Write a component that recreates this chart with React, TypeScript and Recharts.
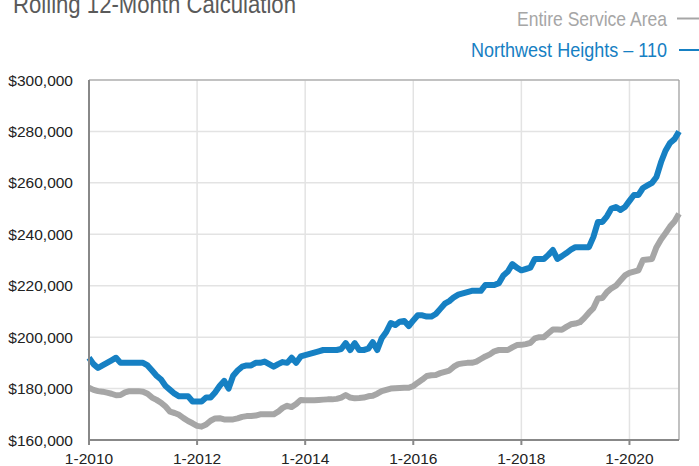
import {
  LineChart,
  Line,
  XAxis,
  YAxis,
  CartesianGrid,
  ReferenceArea,
} from "recharts"

// monthly values in $ thousands, Jan 2010 .. Dec 2020
const serviceArea = [
  180.3, 179.5, 179, 178.8, 178.4, 178, 177.4, 177.5, 178.5, 179, 179, 179,
  178.8, 178, 176.5, 175.6, 174.5, 173, 171, 170.5, 169.8, 168.5, 167.4, 166.5,
  165.5, 165.2, 166, 167.5, 168.4, 168.5, 168, 168, 168, 168.4, 169, 169.3,
  169.3, 169.5, 170, 170, 170, 170, 171, 172.5, 173.3, 172.8, 174, 175.6,
  175.5, 175.5, 175.5, 175.6, 175.7, 175.8, 175.8, 176, 176.5, 177.5, 176.5, 176.2,
  176.3, 176.5, 177, 177.2, 178, 179, 179.5, 180, 180.1, 180.2, 180.3, 180.3,
  181, 182.3, 183.5, 184.9, 185.2, 185.3, 186, 186.5, 187, 188.5, 189.5, 189.8,
  190, 190, 190.5, 191.5, 192.5, 193.3, 194.5, 195, 195, 195, 196, 196.9,
  197, 197.3, 197.8, 199.5, 200, 200, 201.5, 203, 203, 202.9, 204, 205,
  205.3, 205.8, 207.5, 209.5, 211.3, 215, 215.2, 217.5, 219, 220, 222, 224,
  225, 225.5, 226, 230, 230.2, 230.4, 235, 238, 240.4, 243, 245, 248,
]

const northwest = [
  192, 189.5, 188, 189, 190, 191, 192, 190, 190, 190, 190, 190,
  190, 189, 187, 185, 183.5, 181, 179.5, 178, 177, 177, 177, 175,
  175, 175, 176.5, 176.5, 178.5, 181, 183, 180, 185, 187, 188.5, 189,
  189, 190, 190, 190.5, 189.5, 188.5, 189.5, 190.3, 190, 192, 190, 192.5,
  193, 193.5, 194, 194.5, 195, 195, 195, 195, 195.4, 197.7, 195, 197.7,
  195, 195, 195.5, 198, 195, 199.6, 202, 205.5, 204.7, 206, 206.3, 204.3,
  206.5, 208.5, 208.5, 208, 208, 209, 211, 213, 214, 215.5, 216.5, 217,
  217.5, 218, 218, 218, 220.3, 220.3, 220.3, 221, 224, 225.5, 228.4, 227,
  226, 226.5, 227, 230.4, 230.4, 230.4, 232, 233.9, 230.4, 231.5, 232.7, 234,
  235, 235, 235, 235, 239, 244.8, 244.8, 247, 250, 250.6, 249.5, 250.6,
  253, 255.3, 255.3, 258, 259, 260, 262.3, 268, 272.5, 275.5, 277, 280,
]

const xTickLabels = ["1-2010", "1-2012", "1-2014", "1-2016", "1-2018", "1-2020"]
const xTicks = xTickLabels.map((_, i) => i * 24)
const yTicks = [160000, 180000, 200000, 220000, 240000, 260000, 280000, 300000]

const data = serviceArea.map((v, i) => ({
  m: i,
  area: v * 1000,
  nw: northwest[i] * 1000,
}))

const FONT = '"Liberation Sans", Arial, Helvetica, sans-serif'
const BLUE = "#1680c3"
const GRAY = "#a6a6a6"

const App = () => {
  return (
    <div
      style={{
        position: "absolute",
        left: 0,
        top: 0,
        width: 699,
        height: 466,
        background: "#fff",
        fontFamily: FONT,
      }}
    >
      <LineChart
        width={699}
        height={466}
        data={data}
        margin={{ top: 80, right: 20, bottom: 0, left: 0 }}
      >
        <CartesianGrid stroke="#e3e3e3" strokeWidth={1.5} />
        <ReferenceArea
          x1={0}
          x2={131}
          y1={160000}
          y2={300000}
          fill="none"
          stroke="#999"
          strokeWidth={1}
        />
        <XAxis
          dataKey="m"
          type="number"
          domain={[0, 131]}
          ticks={xTicks}
          tickFormatter={(v) => xTickLabels[v / 24]}
          height={26}
          stroke="#888"
          strokeWidth={2}
          tickSize={5}
          tickMargin={8}
          tick={{ fill: "#222", fontSize: 15.5, fontFamily: FONT }}
        />
        <YAxis
          type="number"
          domain={[160000, 300000]}
          ticks={yTicks}
          width={89}
          stroke="#888"
          strokeWidth={2}
          tickLine={false}
          tickSize={0}
          tickMargin={16}
          tickFormatter={(v) => "$" + v.toLocaleString("en-US")}
          tick={{ fill: "#222", fontSize: 15.5, fontFamily: FONT }}
        />
        <Line
          dataKey="area"
          stroke={GRAY}
          strokeWidth={6}
          dot={false}
          strokeLinejoin="round"
          isAnimationActive={false}
        />
        <Line
          dataKey="nw"
          stroke={BLUE}
          strokeWidth={6}
          dot={false}
          strokeLinejoin="round"
          isAnimationActive={false}
        />
      </LineChart>
      <svg
        width={699}
        height={466}
        style={{ position: "absolute", left: 0, top: 0, pointerEvents: "none" }}
      >
        <text
          x={13}
          y={13}
          fontSize={26}
          fill="#5a5a5a"
          fontFamily={FONT}
          textLength={283}
          lengthAdjust="spacingAndGlyphs"
        >
          Rolling 12-Month Calculation
        </text>
        <text
          x={517}
          y={26}
          fontSize={21}
          fill={GRAY}
          fontFamily={FONT}
          textLength={150}
          lengthAdjust="spacingAndGlyphs"
        >
          Entire Service Area
        </text>
        <line x1={677} x2={699} y1={18.5} y2={18.5} stroke={GRAY} strokeWidth={2} />
        <text
          x={471}
          y={57}
          fontSize={21}
          fill={BLUE}
          fontFamily={FONT}
          textLength={196}
          lengthAdjust="spacingAndGlyphs"
        >
          Northwest Heights – 110
        </text>
        <line x1={679} x2={699} y1={50} y2={50} stroke={BLUE} strokeWidth={2} />
      </svg>
    </div>
  )
}

export default App
